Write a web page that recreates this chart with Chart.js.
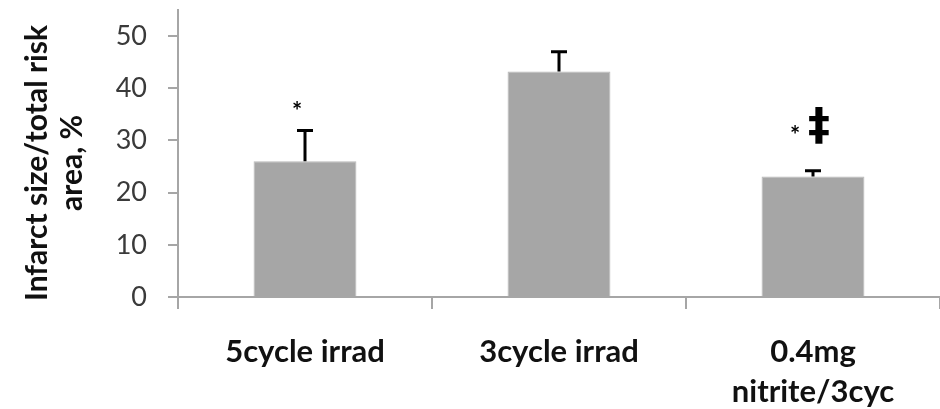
<!DOCTYPE html>
<html lang="en">
<head>
<meta charset="UTF-8">
<title>Infarct size / total risk area</title>
<script src="https://cdn.jsdelivr.net/npm/chart.js"></script>
<style>
    html, body {
        margin: 0;
        padding: 0;
        background: #ffffff;
    }
</style>
</head>
<body>
<canvas id="chart" width="940" height="409"></canvas>
<script>
    // data
    const categories = ['5cycle irrad', '3cycle irrad', ['0.4mg', 'nitrite/3cyc']];
    const infarctMean = [26, 43.2, 23.1];
    const infarctErr = [5.9, 3.8, 1.1];
    const yTicks = [0, 10, 20, 30, 40, 50];
    const yTitle = ['Infarct size/total risk', 'area, %'];

    // significance marks above the bars
    const markBar = [0, 2, 2];
    const markText = ['*', '*', '\u2021'];
    const markValue = [36.6, 32, 32.6];

    const axisGray = '#a6a6a6';

    const errorBars = {
        id: 'errorBars',
        afterDatasetsDraw(chart) {
            const ctx = chart.ctx;
            const y = chart.scales.y;
            const bars = chart.getDatasetMeta(0).data;
            ctx.save();
            ctx.strokeStyle = '#000';
            ctx.lineWidth = 3;
            bars.forEach((bar, i) => {
                const top = y.getPixelForValue(infarctMean[i] + infarctErr[i]);
                ctx.beginPath();
                ctx.moveTo(bar.x, bar.y);
                ctx.lineTo(bar.x, top);
                ctx.moveTo(bar.x - 8, top);
                ctx.lineTo(bar.x + 8, top);
                ctx.stroke();
            });

            // stars and double dagger
            const shift = [-8, -18, 6];
            ctx.fillStyle = '#000';
            ctx.textAlign = 'center';
            ctx.textBaseline = 'middle';
            markText.forEach((t, i) => {
                const bar = bars[markBar[i]];
                const py = y.getPixelForValue(markValue[i]);
                if (t === '*') {
                    ctx.font = 'bold 24px Lato';
                    ctx.fillText(t, bar.x + shift[i], py + 6);
                } else {
                    ctx.font = 'bold 44px "DejaVu Sans"';
                    ctx.fillText(t, bar.x + shift[i], py + 2);
                }
            });
            ctx.restore();
        }
    };

    const yAxisTitle = {
        id: 'yAxisTitle',
        afterDraw(chart) {
            const ctx = chart.ctx;
            ctx.save();
            ctx.translate(37, 163);
            ctx.rotate(-Math.PI / 2);
            ctx.font = 'bold 30px Lato';
            ctx.fillStyle = '#111';
            ctx.textAlign = 'center';
            ctx.textBaseline = 'middle';
            yTitle.forEach((line, i) => ctx.fillText(line, 0, i * 35));
            ctx.restore();
        }
    };

    new Chart(document.getElementById('chart'), {
        type: 'bar',
        data: {
            labels: categories,
            datasets: [{
                data: infarctMean,
                backgroundColor: '#a6a6a6',
                borderColor: '#b8b8b8',
                borderWidth: 1,
                barPercentage: 0.405,
                categoryPercentage: 1
            }]
        },
        options: {
            responsive: false,
            animation: false,
            layout: {padding: {top: 10, right: 0, left: 0, bottom: 0}},
            plugins: {
                legend: {display: false},
                tooltip: {enabled: false}
            },
            scales: {
                x: {
                    afterFit: (s) => {
                        s.height = 112;
                        s.paddingLeft = 0;
                        s.paddingRight = 0;
                    },
                    grid: {offset: true, drawOnChartArea: false, tickLength: 12, color: axisGray, lineWidth: 2},
                    border: {color: axisGray, width: 2},
                    ticks: {
                        font: {family: 'Lato', weight: 'bold', size: 31, lineHeight: 1.3},
                        color: '#111',
                        padding: 23,
                        maxRotation: 0,
                        autoSkip: false
                    }
                },
                y: {
                    min: 0,
                    max: 55,
                    afterBuildTicks: (axis) => { axis.ticks = yTicks.map(v => ({value: v})); },
                    afterFit: (s) => {
                        s.width = 178;
                        s.paddingTop = 0;
                        s.paddingBottom = 0;
                    },
                    grid: {drawOnChartArea: false, tickLength: 10, color: axisGray, lineWidth: 2},
                    border: {color: axisGray, width: 2},
                    ticks: {
                        font: {family: 'Lato', size: 27},
                        color: '#3a3a3a',
                        padding: 21
                    }
                }
            }
        },
        plugins: [errorBars, yAxisTitle]
    });
</script>
</body>
</html>
